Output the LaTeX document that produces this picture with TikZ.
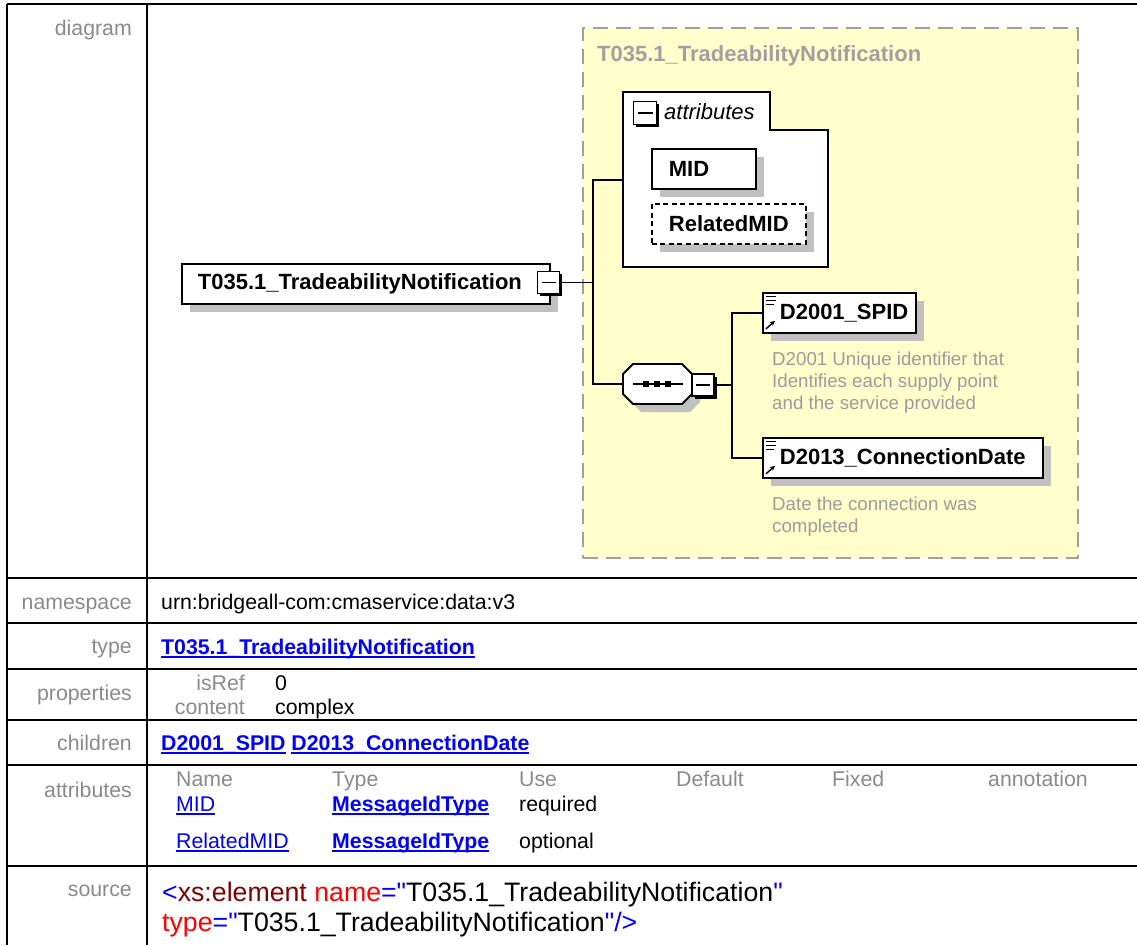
\documentclass[tikz,border=0pt]{standalone}
\usepackage{fontspec}
\setmainfont{Liberation Sans}
\newfontfamily\srcfamily{Liberation Sans}[Ligatures=TeXOff]
\usetikzlibrary{positioning,arrows.meta,calc,shadows}
\definecolor{XSlabel}{HTML}{8A8A8A}
\definecolor{XSlink}{HTML}{0000FF}
\definecolor{XSyellow}{HTML}{FFFFCC}
\definecolor{XSframe}{HTML}{A0A0A0}
\definecolor{XSshadow}{HTML}{C0C0C0}
\definecolor{XSnote}{HTML}{9C9C9C}
\definecolor{XStag}{HTML}{800000}
\definecolor{XSattr}{HTML}{FF0000}
\newcommand\tabfont{\fontsize{21.3}{22}\selectfont}
\newcommand\srcfont{\srcfamily\fontsize{26.7}{30}\selectfont}
\newcommand\boxfont{\fontsize{22}{24}\selectfont\bfseries}
\newcommand\notefont{\fontsize{18.7}{22}\selectfont}
\newcommand\xsline[1]{\setbox0\hbox{#1}\rlap{\rule[-3.5pt]{\wd0}{1.5pt}}\box0}
\newcommand\xslink[1]{\textcolor{XSlink}{\xsline{\bfseries #1}}}
\newcommand\xsref[1]{\textcolor{XSlink}{\xsline{#1}}}
\tikzset{
  tablerule/.style={line width=2pt},
  rowlabel/.style={anchor=base east, inner sep=0pt, font=\tabfont, text=XSlabel},
  rowvalue/.style={anchor=base west, inner sep=0pt, font=\tabfont},
  wire/.style={line width=1.8pt},
  diagframe/.style={draw=XSframe, fill=XSyellow, line width=2pt, dash pattern=on 15pt off 8pt, anchor=north west},
  elembox/.style={draw, fill=white, line width=1.8pt, anchor=north west, minimum height=40pt, inner ysep=0pt, inner xsep=17pt, align=left, font=\boxfont,
    drop shadow={shadow xshift=8pt, shadow yshift=-8pt, fill=XSshadow, opacity=1}},
  refbox/.style={elembox, path picture={
    \foreach \dy/\len in {4/10,8/10,12/8}
      \draw[line width=1.1pt] ([shift={(3pt,-\dy pt)}]path picture bounding box.north west) -- ++(\len pt,0pt);
    \draw[line width=1.4pt, -{Stealth[length=5pt,width=5pt]}] ([shift={(3pt,4pt)}]path picture bounding box.south west) -- ++(9pt,8pt);}},
  togglebox/.style={draw, fill=white, line width=1.4pt, minimum size=20pt, inner sep=0pt,
    drop shadow={shadow xshift=2.5pt, shadow yshift=-2.5pt, fill=black, opacity=1},
    path picture={\draw[line width=1.4pt] ([xshift=4pt]path picture bounding box.west) -- ([xshift=-4pt]path picture bounding box.east);}},
  notetext/.style={anchor=north west, inner sep=0pt, align=left, font=\notefont, text=XSnote}
}
\begin{document}
\begin{tikzpicture}[x=1pt, y=-1pt]
  \useasboundingbox (0,0) rectangle (1137,945);
  % table frame
  \draw[tablerule] (7,4) -- (1137,4);
  \draw[tablerule] (7,4) -- (7,945);
  \draw[tablerule] (147,4) -- (147,945);
  \foreach \y in {578,623,669,720,765,866}
    \draw[tablerule] (7,\y) -- (1137,\y);
  \foreach \lab/\y in {diagram/35, namespace/609, type/653, properties/700, children/750, attributes/797, source/896}
    \node[rowlabel] (lab-\lab) at (132,\y) {\lab};

  % diagram
  \node[diagframe, minimum width=495pt, minimum height=530pt] (frame) at (582,27) {};
  \node[anchor=base west, inner sep=0pt, font=\boxfont, text=XSframe] (frametitle) at (597,61) {T035.1\_TradeabilityNotification};

  \node[elembox, inner xsep=16pt, text width=336pt] (root) at (181,263) {T035.1\_TradeabilityNotification};
  \node[togglebox, minimum size=22pt] (roottgl) at (548.5,282.5) {};

  \draw[fill=white, line width=1.8pt] (623,92) -- (770,92) -- (770,130) -- (828,130) -- (828,267) -- (623,267) -- cycle;
  \coordinate (attrin) at (623,180);
  \node[togglebox, minimum size=23pt] (attrtgl) at (645,113) {};
  \node[anchor=west, inner sep=0pt, font=\fontsize{22}{24}\selectfont\itshape] (attrlbl) at (664,112) {attributes};
  \node[elembox, text width=70pt] (mid) at (651,148) {MID};
  \node[elembox, dash pattern=on 5pt off 3.5pt, text width=120pt] (relmid) at (651,203) {RelatedMID};

  % sequence
  \node[inner sep=0pt, minimum width=69pt, minimum height=40pt] (seq) at (657.5,384) {};
  \path[fill=XSshadow, shift={(8,8)}] (633,364) -- (682,364) -- (692,374) -- (692,394) -- (682,404) -- (633,404) -- (623,394) -- (623,374) -- cycle;
  \path[fill=white, draw, line width=1.8pt] (633,364) -- (682,364) -- (692,374) -- (692,394) -- (682,404) -- (633,404) -- (623,394) -- (623,374) -- cycle;
  \draw[line width=1.8pt] (633,384) -- (683,384);
  \foreach \x in {646,657,668}
    \fill (\x-3,381) rectangle (\x+3,387);
  \node[togglebox, minimum size=22pt] (seqtgl) at (703,385) {};

  \node[refbox, text width=119pt] (spid) at (762,292) {D2001\_SPID};
  \node[notetext, below right=18pt and 10pt of spid.south west] (spidnote) {D2001 Unique identifier that\\Identifies each supply point\\and the service provided};
  \node[refbox, text width=246pt] (date) at (762,437) {D2013\_ConnectionDate};
  \node[notetext, below right=17.5pt and 10pt of date.south west] (datenote) {Date the connection was\\completed};

  \coordinate (hub) at (593,282.5);
  \coordinate (fork) at (732,385);
  \draw[wire] (roottgl.east) -- (hub);
  \draw[wire] (attrin) -| (hub) |- (seq.west);
  \draw[wire] (seqtgl.east) -- (fork);
  \draw[wire] (spid.west) -| (fork) |- (date.west);

  % table values
  \node[rowvalue] (nsval) at (161,609) {urn:bridgeall-com:cmaservice:data:v3};
  \node[rowvalue] (typeval) at (161,654) {\xslink{T035.1\_TradeabilityNotification}};
  \node[rowlabel] (isrefkey) at (245,690) {isRef};
  \node[rowvalue] (isrefval) at (275,690) {0};
  \node[rowlabel] (contentkey) at (245,714) {content};
  \node[rowvalue] (contentval) at (275,714) {complex};
  \node[rowvalue] (childval) at (161,750) {\xslink{D2001\_SPID} \xslink{D2013\_ConnectionDate}};
  \foreach \col/\x in {Name/176, Type/332, Use/519, Default/676, Fixed/832, annotation/988}
    \node[rowvalue, text=XSlabel] (head-\col) at (\x,786) {\col};
  \node[rowvalue] (midname) at (176,811) {\xsref{MID}};
  \node[rowvalue] (midtype) at (332,811) {\xslink{MessageIdType}};
  \node[rowvalue] (miduse) at (519,811) {required};
  \node[rowvalue] (relname) at (176,848) {\xsref{RelatedMID}};
  \node[rowvalue] (reltype) at (332,848) {\xslink{MessageIdType}};
  \node[rowvalue] (reluse) at (519,848) {optional};
  \node[rowvalue, font=\srcfont] (src1) at (162,901) {\textcolor{XSlink}{<}\textcolor{XStag}{xs:element} \textcolor{XSattr}{name}\textcolor{XSlink}{="}T035.1\_TradeabilityNotification\textcolor{XSlink}{"}};
  \node[rowvalue, font=\srcfont] (src2) at (162,931) {\textcolor{XSattr}{type}\textcolor{XSlink}{="}T035.1\_TradeabilityNotification\textcolor{XSlink}{"/>}};
\end{tikzpicture}
\end{document}
